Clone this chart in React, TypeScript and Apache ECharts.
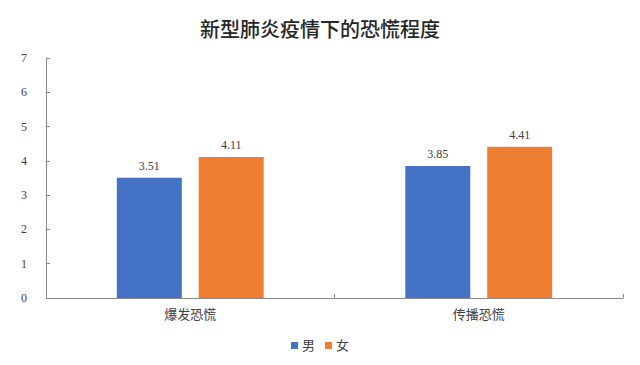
import React, { useEffect, useRef } from "react";
import * as echarts from "echarts";

const title = "新型肺炎疫情下的恐慌程度";
const categories = ["爆发恐慌", "传播恐慌"];
const seriesNames = ["男", "女"];
const maleValues = [3.51, 3.85];
const femaleValues = [4.11, 4.41];
const colors = ["#4472C4", "#ED7D31"];

const FONT = "'Liberation Serif', 'Noto Sans CJK SC', serif";

export default function App() {
  const ref = useRef<HTMLDivElement>(null);
  useEffect(() => {
    if (!ref.current) return;
    const chart = echarts.init(ref.current, undefined, { renderer: "svg" });
    const valueLabel = {
      show: true,
      position: "top" as const,
      distance: 6,
      color: "#404040",
      fontSize: 12,
      fontFamily: FONT,
      formatter: (p: any) => p.value.toFixed(2),
    };
    chart.setOption({
      animation: false,
      title: {
        text: title,
        left: "center",
        top: 13,
        textStyle: { fontSize: 20, fontWeight: 500, color: "#262626", fontFamily: "'Noto Sans CJK SC', sans-serif" },
      },
      legend: {
        bottom: 8,
        left: "center",
        itemWidth: 7,
        itemHeight: 7,
        itemGap: 10,
        icon: "rect",
        textStyle: { fontSize: 13, color: "#404040", fontFamily: FONT, padding: [0, 0, 0, -1] },
        data: seriesNames,
      },
      grid: { left: 46, right: 17, top: 58, bottom: 67, containLabel: false },
      xAxis: {
        type: "category",
        data: categories,
        axisLine: { lineStyle: { color: "#898989", width: 1 } },
        axisTick: { show: true, inside: true, length: 4, lineStyle: { color: "#898989" } },
        axisLabel: { fontSize: 13, color: "#404040", margin: 10, fontFamily: FONT },
      },
      yAxis: {
        type: "value",
        min: 0,
        max: 7,
        interval: 1,
        splitLine: { show: false },
        axisLine: { show: true, lineStyle: { color: "#898989", width: 1 } },
        axisTick: { show: true, inside: true, length: 4, lineStyle: { color: "#898989" } },
        axisLabel: { fontSize: 12, color: "#404040", margin: 19, fontFamily: FONT },
      },
      series: [
        {
          name: seriesNames[0],
          type: "bar",
          data: maleValues,
          barWidth: 65,
          barGap: "26%",
          itemStyle: { color: colors[0] },
          label: valueLabel,
        },
        {
          name: seriesNames[1],
          type: "bar",
          data: femaleValues,
          barWidth: 65,
          barGap: "26%",
          itemStyle: { color: colors[1] },
          label: valueLabel,
        },
      ],
    });
    return () => chart.dispose();
  }, []);
  return <div ref={ref} style={{ width: 640, height: 365, position: "absolute", left: 0, top: 0 }} />;
}
